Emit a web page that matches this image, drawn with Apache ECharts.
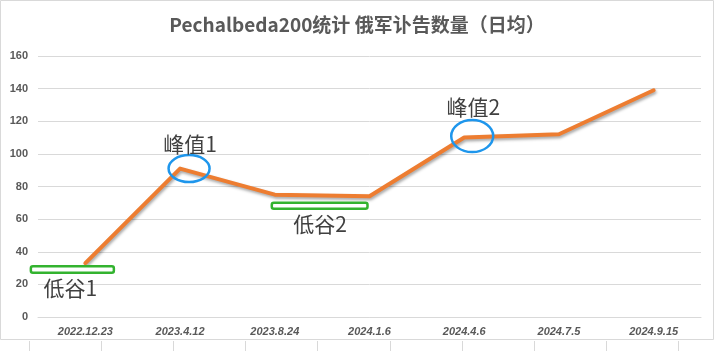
<!DOCTYPE html>
<html><head><meta charset="utf-8">
<script src="https://cdn.jsdelivr.net/npm/echarts@6/dist/echarts.min.js"></script>
<style>html,body{margin:0;padding:0;background:#fff}#c{width:714px;height:351px}</style>
</head><body><div id="c"></div>
<script>
const categories = ['2022.12.23','2023.4.12','2023.8.24','2024.1.6','2024.4.6','2024.7.5','2024.9.15'];
const dailyObituaries = [33, 91, 75, 74, 110, 112, 139];
const yTicks = {min: 0, max: 160, interval: 20};
const peakLabels = ['峰值1', '峰值2'];
const troughLabels = ['低谷1', '低谷2'];

const chart = echarts.init(document.getElementById('c'), null, {renderer: 'canvas'});
const axisFont = '"Liberation Sans", "Noto Sans", sans-serif';
chart.setOption({
  animation: false,
  title: {
    text: 'Pechalbeda200统计 俄军讣告数量（日均）',
    left: 'center', top: 10,
    textStyle: {fontFamily: '"Noto Sans CJK SC", sans-serif', fontSize: 19, fontWeight: 'bold', color: '#595959'}
  },
  grid: {left: 38, right: 13, top: 56, bottom: 34},
  xAxis: {
    type: 'category', data: categories, boundaryGap: true,
    axisLine: {show: true, lineStyle: {color: '#d9d9d9'}},
    axisTick: {show: false},
    axisLabel: {margin: 9, fontFamily: axisFont, fontSize: 11, fontWeight: 'bold', fontStyle: 'italic', color: '#595959'}
  },
  yAxis: {
    type: 'value', min: yTicks.min, max: yTicks.max, interval: yTicks.interval,
    axisLine: {show: false}, axisTick: {show: false},
    splitLine: {lineStyle: {color: '#d9d9d9', width: 1}},
    axisLabel: {margin: 10, fontFamily: axisFont, fontSize: 11, fontWeight: 'bold', color: '#595959'}
  },
  series: [{
    type: 'line', data: dailyObituaries, symbol: 'none', smooth: false,
    lineStyle: {color: '#ED7D31', width: 4, cap: 'round', join: 'round',
      shadowColor: 'rgba(0,0,0,0.35)', shadowBlur: 3, shadowOffsetX: 1, shadowOffsetY: 2}
  }]
});

function px(i, v) { return chart.convertToPixel({gridIndex: 0}, [i, v]); }
const labelStyle = {fontFamily: '"Noto Sans CJK SC", sans-serif', fontSize: 21, fill: '#404040', align: 'center', verticalAlign: 'middle'};
const green = '#33B32F', blue = '#1E96EC';

const p1 = px(1, dailyObituaries[1]);
const p2 = px(4, dailyObituaries[4]);
const t1 = px(0, dailyObituaries[0]);
const t2a = px(2, dailyObituaries[2]);
const t2b = px(3, dailyObituaries[3]);

const graphics = [
  // chart border
  {type: 'rect', shape: {x: 0.5, y: 0.5, width: 713, height: 339}, style: {fill: 'none', stroke: '#d9d9d9', lineWidth: 1}, z: 0, silent: true},
  // peak 1
  {type: 'ellipse', shape: {cx: p1[0] + 9, cy: p1[1], rx: 20.5, ry: 13.5}, style: {fill: 'none', stroke: blue, lineWidth: 2.5}, z: 100},
  {type: 'text', x: p1[0] + 10, y: p1[1] - 25, style: Object.assign({text: peakLabels[0]}, labelStyle), z: 100},
  // peak 2
  {type: 'ellipse', shape: {cx: p2[0] + 8, cy: p2[1] - 1.5, rx: 21, ry: 16}, style: {fill: 'none', stroke: blue, lineWidth: 2.5}, z: 100},
  {type: 'text', x: p2[0] + 9, y: p2[1] - 31, style: Object.assign({text: peakLabels[1]}, labelStyle), z: 100},
  // trough 1
  {type: 'rect', shape: {x: t1[0] - 54.5, y: t1[1] + 3, width: 83, height: 6.5, r: 2}, style: {fill: '#fff', stroke: green, lineWidth: 2.5}, z: 100},
  {type: 'text', x: t1[0] - 15, y: t1[1] + 25, style: Object.assign({text: troughLabels[0]}, labelStyle), z: 100},
  // trough 2
  {type: 'rect', shape: {x: t2a[0] - 3, y: t2a[1] + 8, width: (t2b[0] - t2a[0]) + 1, height: 6, r: 2}, style: {fill: '#fff', stroke: green, lineWidth: 2.5}, z: 100},
  {type: 'text', x: (t2a[0] + t2b[0]) / 2 - 2, y: t2a[1] + 29, style: Object.assign({text: troughLabels[1]}, labelStyle), z: 100}
];
// spreadsheet cell separators below chart
for (let k = 0; k < 10; k++) {
  const x = 28.5 + k * 72.2;
  graphics.push({type: 'line', shape: {x1: Math.round(x) + 0.5, y1: 341, x2: Math.round(x) + 0.5, y2: 351}, style: {stroke: '#d9d9d9', lineWidth: 1}, silent: true});
}
chart.setOption({graphic: graphics});
</script>
</body></html>
